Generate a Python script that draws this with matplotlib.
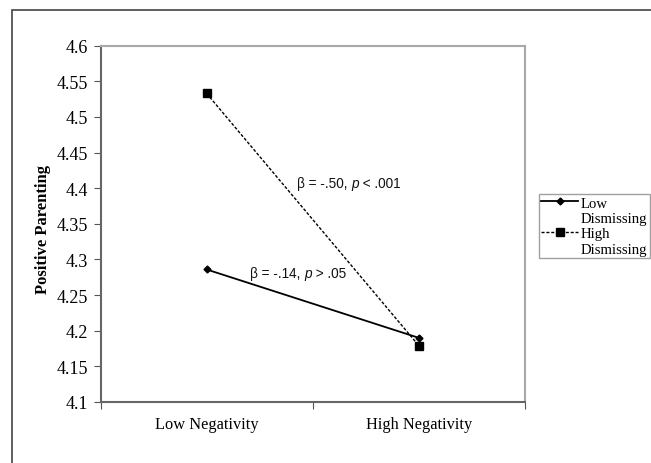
import matplotlib
matplotlib.use("Agg")
import matplotlib.pyplot as plt
from matplotlib.patches import Rectangle
from matplotlib.lines import Line2D

categories = ["Low Negativity", "High Negativity"]
low_dismissing = [4.286, 4.190]
high_dismissing = [4.533, 4.179]
series_labels = [("Low", "Dismissing"), ("High", "Dismissing")]
yticks = [4.1, 4.15, 4.2, 4.25, 4.3, 4.35, 4.4, 4.45, 4.5, 4.55, 4.6]
ytick_labels = ["4.1", "4.15", "4.2", "4.25", "4.3", "4.35", "4.4", "4.45", "4.5", "4.55", "4.6"]
ann_high = ["β = -.50, ", "p", " < .001"]
ann_low = ["β = -.14, ", "p", " > .05"]

W, H = 651, 464
fig = plt.figure(figsize=(W / 100, H / 100), dpi=100)
serif = "Liberation Serif"
sans = "Liberation Sans"

# figure border
fig.patches.append(Rectangle((11.5 / W, -0.1), 1.0, 1.1 - 10.5 / H, transform=fig.transFigure,
                             fill=False, edgecolor="#444444", linewidth=1.2, clip_on=False))

ax = fig.add_axes([100.5 / W, 1 - 403 / H, (525 - 100.5) / W, (403 - 46.7) / H])
x = [0.5, 1.5]
l1, = ax.plot(x, low_dismissing, color="black", linewidth=1.3, marker="D", markersize=3.5)
l2, = ax.plot(x, high_dismissing, color="black", linewidth=1.0, linestyle=(0, (2.2, 1.3)),
              marker="s", markersize=5.5)

ax.set_xlim(0, 2)
ax.set_ylim(4.1, 4.6)
ax.set_yticks(yticks)
ax.set_yticklabels(ytick_labels, fontfamily=serif, fontsize=13)
ax.set_xticks([0, 1, 2])
ax.set_xticklabels([])
ax.set_xticks(x, minor=True)
ax.set_xticklabels(categories, minor=True, fontfamily=serif, fontsize=11.8)
ax.tick_params(axis="x", which="minor", length=0, pad=10)
ax.tick_params(axis="x", which="major", length=5, direction="out", color="#555555")
ax.tick_params(axis="y", length=5, direction="out", color="#555555", pad=4)

for s in ["left", "bottom"]:
    ax.spines[s].set_color("#666666")
    ax.spines[s].set_linewidth(1.5)
for s in ["top", "right"]:
    ax.spines[s].set_color("#a8a8a8")
    ax.spines[s].set_linewidth(1.5)

ax.set_ylabel("Positive Parenting", fontfamily=serif, fontweight="bold", fontsize=12)
ax.yaxis.set_label_coords(-0.117, 0.487)

def rich(xpx, ypx, parts):
    kw = dict(transform=None, fontfamily=sans, fontsize=9.8, color="#111111", va="center", ha="left")
    t = ax.text(xpx, ypx, parts[0], **kw)
    fig.canvas.draw()
    r = fig.canvas.get_renderer()
    bb = t.get_window_extent(r)
    t2 = ax.text(bb.x1, ypx, parts[1], style="italic", **kw)
    bb2 = t2.get_window_extent(r)
    ax.text(bb2.x1, ypx, parts[2], **kw)

rich(297, H - 184, ann_high)
rich(250, H - 274, ann_low)

blank = Line2D([], [], linestyle="none")
handles = [l1, blank, l2, blank]
labels = [series_labels[0][0], series_labels[0][1], series_labels[1][0], series_labels[1][1]]
leg = ax.legend(handles, labels, loc="upper left", bbox_to_anchor=(539 / W, 1 - 195 / H),
                bbox_transform=fig.transFigure,
                prop={"family": serif, "size": 10.6}, frameon=True, fancybox=False,
                edgecolor="#888888", borderpad=0.15, handlelength=2.5, handletextpad=0.2,
                labelspacing=0.14, borderaxespad=0)
leg.get_frame().set_linewidth(1.0)

fig.savefig("out.png", dpi=100)
